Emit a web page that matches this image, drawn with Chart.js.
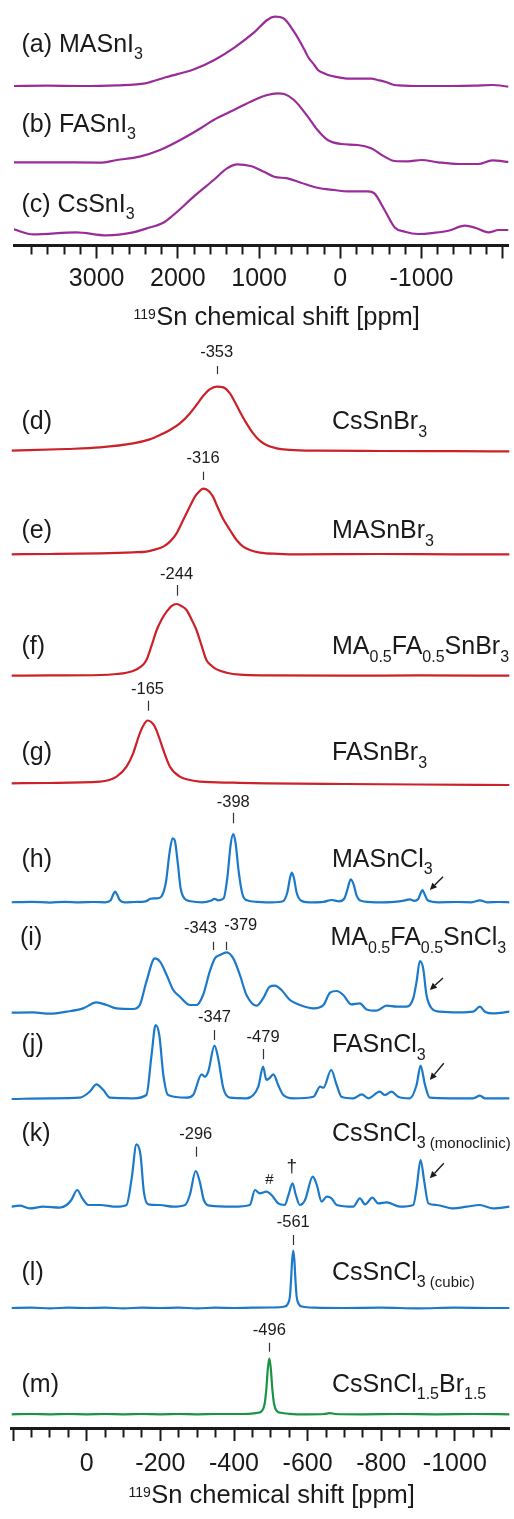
<!DOCTYPE html>
<html><head><meta charset="utf-8">
<script src="https://cdn.jsdelivr.net/npm/chart.js@4.4.1/dist/chart.umd.min.js"></script>
<style>
html,body{margin:0;padding:0;background:#fff;}
#wrap{position:relative;width:514px;height:1519px;overflow:hidden;background:#fff;}
canvas{position:absolute;left:0;top:0;}
</style></head><body>
<div id="wrap"><canvas id="topChart" width="514" height="1519"></canvas><canvas id="botChart" width="514" height="1519"></canvas></div>
<script>
// ---------------- DATA (ppm, intensity) ----------------
const topTickLabels = [3000, 2000, 1000, 0, -1000];
const botTickLabels = [0, -200, -400, -600, -800, -1000];

const traceA = [[4020,0],[3600,0.3],[3200,0],[2750,0.7],[2400,2.7],[2150,8.7],[1800,16.7],[1550,26],[1300,38.7],[1050,54.3],[900,66],[800,69.3],[700,67.7],[570,54.3],[440,36],[398,29.3],[320,21],[275,16],[200,12.7],[151,11],[70,9.3],[-55,7.7],[-220,7.3],[-385,7.3],[-460,6],[-550,4.3],[-670,1],[-715,0.7],[-960,0],[-1370,0],[-1650,0.3],[-1870,1],[-2080,-0.7]];
const traceB = [[4020,0],[3580,0],[2960,-0.3],[2750,2.3],[2470,5.7],[2220,12.3],[1970,22.3],[1720,34],[1560,42.3],[1310,52.3],[1060,62.3],[900,67.3],[775,69],[690,68.3],[570,62.3],[400,45.7],[280,32.3],[155,22.3],[-10,18.3],[-215,17.3],[-380,14],[-545,5.7],[-670,1.3],[-835,1],[-1000,2.3],[-1205,0],[-1455,-1.7],[-1700,-1.7],[-1870,2],[-2080,0.3]];
const traceC = [[4020,2.3],[3780,-2.7],[3250,-0.7],[2880,-3.7],[2550,-0.7],[2385,3.3],[2180,9],[2055,16.7],[1805,35],[1560,51.7],[1395,63.3],[1270,67.3],[1105,65.7],[940,60],[815,55],[650,53.3],[485,49],[280,44],[75,41.7],[-90,40.3],[-340,40.3],[-420,38.3],[-545,21.7],[-670,4.3],[-795,0],[-960,-2.3],[-1165,-1],[-1330,1],[-1535,6],[-1660,4],[-1825,-0.7],[-1950,1.7],[-2080,1.7]];

const traceD = [[209,0],[55,1.7],[-36,3.3],[-126,7.3],[-171,11.3],[-199,15.7],[-226,20.7],[-253,27.3],[-280,37.3],[-298,45.7],[-316,54.7],[-334,61.3],[-353,64],[-371,63.3],[-389,57.3],[-402,49],[-416,39],[-434,27.3],[-452,17.3],[-470,10],[-488,5.7],[-516,2.3],[-534,1.3],[-579,0.3],[-625,0],[-800,-0.3],[-1000,-0.5],[-1150,-0.7]];
const traceE = [[209,0],[100,0.3],[-36,1],[-126,2],[-162,2.7],[-180,4.3],[-208,7.7],[-226,12.7],[-244,21],[-262,34.3],[-280,47.7],[-294,57.7],[-303,61.7],[-316,65.7],[-330,63.7],[-343,57.7],[-353,49.3],[-371,35],[-389,24.3],[-407,14.3],[-425,7.7],[-443,4.3],[-470,1.7],[-520,0.5],[-579,0],[-800,0.3],[-1000,0],[-1150,0]];
const traceF = [[209,0],[100,0.3],[-36,0.7],[-81,1.7],[-108,3],[-135,6.3],[-153,11],[-162,15.7],[-176,30],[-190,45.7],[-203,56],[-217,64],[-230,69.5],[-244,71.7],[-258,69.5],[-271,65.7],[-285,56],[-298,45.7],[-312,30],[-325,15.7],[-339,10],[-353,6.3],[-380,3],[-416,1],[-488,0.3],[-700,0],[-900,0.3],[-1150,0]];
const traceG = [[209,0.7],[100,1],[-36,2.3],[-81,7.3],[-108,17.3],[-126,30.7],[-144,50.7],[-156,60],[-165,63.5],[-175,62],[-185,57.3],[-197,46],[-208,34],[-226,17.3],[-253,7.3],[-280,4],[-307,2.3],[-400,1.3],[-488,0.7],[-700,0],[-900,-0.5],[-1150,-1]];
const traceH = [[209,0],[150,0.5],[100,-0.3],[60,0.5],[20,0],[-20,0.3],[-50,0],[-65,2],[-72,8],[-77,10.7],[-82,8],[-90,2],[-102,0],[-130,0.3],[-160,1],[-173,3.5],[-181,4],[-191,4],[-203,6],[-215,20],[-225,50],[-233,64],[-239,62],[-247,40],[-255,14],[-265,4],[-283,1],[-313,0],[-337,1.5],[-347,3.5],[-357,2],[-372,4],[-382,25],[-391,58],[-398,68.3],[-404,60],[-413,30],[-423,8],[-435,2],[-463,0.5],[-503,0],[-533,1],[-545,10],[-552,24],[-557,29.7],[-563,24],[-570,10],[-581,2],[-604,0],[-644,0.5],[-665,2.3],[-685,1],[-700,4],[-709,14],[-717,23],[-725,18],[-733,7],[-745,1.5],[-785,0],[-835,0.5],[-865,2],[-877,3],[-890,1.5],[-900,3],[-907,9],[-912,12.3],[-918,8],[-926,2],[-956,0],[-1006,0.3],[-1046,0],[-1068,2],[-1088,0],[-1118,0.3],[-1150,0]];
const traceI = [[209,0],[146,0.3],[100,-1],[55,1],[10,4.3],[-26,10.3],[-54,7.7],[-81,4.3],[-126,3.7],[-144,7.7],[-162,31],[-185,54.3],[-199,51],[-217,37.7],[-235,22.7],[-253,16],[-280,7.7],[-298,7.7],[-316,17.7],[-334,41],[-348,54.3],[-362,57.7],[-380,60.3],[-398,54.3],[-416,37.7],[-434,17.7],[-461,7],[-479,14.3],[-497,26],[-511,27],[-529,22.7],[-552,12.7],[-579,7.7],[-616,4.3],[-643,7.7],[-661,20],[-679,21.7],[-697,17.7],[-719,8.3],[-742,9.3],[-760,3.3],[-787,2],[-815,7],[-842,6],[-869,6],[-887,14.3],[-896,31],[-905,51.7],[-914,44.3],[-923,17.7],[-937,4.3],[-959,1],[-1014,0.3],[-1050,1],[-1068,6],[-1082,1],[-1104,-0.7],[-1150,1]];
const traceJ = [[209,0],[100,0.7],[19,1.3],[-8,7.3],[-26,14.7],[-45,9],[-63,1.3],[-126,0.7],[-162,4],[-176,44],[-187,74],[-197,64],[-208,24],[-221,4],[-271,1.3],[-289,4],[-312,24.7],[-321,22.3],[-330,27.3],[-347,53.3],[-357,40.7],[-371,10.7],[-389,1.3],[-434,0.7],[-466,12.3],[-479,32.3],[-488,19],[-496,20.7],[-507,24.7],[-520,14],[-534,4],[-561,0.7],[-616,2.3],[-634,12.3],[-643,11.3],[-664,29],[-679,14],[-692,2.3],[-724,0.7],[-747,4.7],[-765,0.7],[-796,7.3],[-810,4],[-828,7.3],[-846,2.3],[-878,0.7],[-896,14],[-907,33.3],[-919,14],[-932,1.3],[-987,0.7],[-1050,0.7],[-1068,3.3],[-1082,0.7],[-1150,0.7]];
const traceK = [[209,1],[182,2],[155,-0.7],[119,1],[73,0],[55,2.7],[42,7.7],[26,17.7],[12,9.3],[-4,2.7],[-36,2.7],[-81,1],[-108,2.7],[-122,29.3],[-135,63.3],[-146,52.7],[-155,16],[-167,3.3],[-199,2.7],[-235,1],[-267,2.7],[-280,12.7],[-296,36.7],[-307,26],[-318,7.7],[-334,2],[-398,1],[-443,2.7],[-457,17.7],[-470,14.3],[-488,16],[-502,12.7],[-520,4.3],[-538,2.7],[-548,12.7],[-559,24.3],[-568,12.7],[-579,2.7],[-593,7.7],[-614,31],[-625,22.7],[-638,6],[-652,11],[-665,9.3],[-679,2.7],[-724,1],[-742,9.3],[-756,3.3],[-776,10],[-792,4.3],[-815,5.3],[-851,1],[-887,2.7],[-896,19.3],[-907,47.7],[-917,26],[-928,4.3],[-950,2.7],[-996,-0.7],[-1032,1],[-1068,2.7],[-1104,-0.7],[-1150,1]];
const traceL = [[209,0],[150,0.3],[100,-0.3],[50,0.3],[0,0],[-50,0.3],[-100,-0.3],[-150,0.3],[-200,0],[-250,0.3],[-300,-0.3],[-350,0.3],[-400,0],[-450,0.3],[-500,0.5],[-537,1.5],[-546,4],[-552,12],[-555,28],[-558,48],[-561,57.5],[-564,48],[-567,28],[-570,12],[-576,4],[-585,1.5],[-620,0.3],[-700,0],[-800,0.3],[-900,-0.3],[-1000,0.3],[-1100,0],[-1150,0]];
const traceM = [[209,0],[150,0.3],[100,0],[50,0.3],[0,0],[-50,0.3],[-100,0],[-150,0.3],[-200,0],[-250,0.3],[-300,0],[-350,0.3],[-400,0.3],[-440,0.5],[-465,1.5],[-475,3],[-483,10],[-488,26],[-492,46],[-496,56],[-500,46],[-504,26],[-509,10],[-517,3],[-527,1.5],[-550,0.5],[-600,0],[-645,0.3],[-660,1.2],[-675,0.3],[-750,0],[-850,0.3],[-950,0],[-1050,0.3],[-1150,0]];

// ---------------- STYLE / LAYOUT ----------------
const FONT = '"Liberation Sans", Arial, Helvetica, sans-serif';
const INK = '#1a1a1a';
const PURPLE = '#9a2c9a', RED = '#cc2129', BLUE = '#1b79c9', GREEN = '#1a9444';

const topSeries = [
  {data: traceA, base: 86, color: PURPLE},
  {data: traceB, base: 162.3, color: PURPLE},
  {data: traceC, base: 231.7, color: PURPLE}
];
const botSeries = [
  {data: traceD, base: 450.7, color: RED},
  {data: traceE, base: 554.3, color: RED},
  {data: traceF, base: 675.7, color: RED},
  {data: traceG, base: 784, color: RED},
  {data: traceH, base: 902.3, color: BLUE},
  {data: traceI, base: 1012.7, color: BLUE},
  {data: traceJ, base: 1099, color: BLUE},
  {data: traceK, base: 1207.7, color: BLUE},
  {data: traceL, base: 1308, color: BLUE},
  {data: traceM, base: 1414.3, color: GREEN}
];

const M = t => [t, 0], S = t => [t, 1], s = t => [t, 2];
const ANNOT = {
  topChart: {
    title: {x: 133.5, y: 324.5},
    labels: [
      {x: 21.5, y: 51.7, parts: [M('(a) MASnI'), S('3')]},
      {x: 21.5, y: 131.7, parts: [M('(b) FASnI'), S('3')]},
      {x: 21.5, y: 211.7, parts: [M('(c) CsSnI'), S('3')]}
    ],
    peaks: [], arrows: [], marks: []
  },
  botChart: {
    title: {x: 128.5, y: 1502.7},
    labels: [
      {x: 21.5, y: 429, parts: [M('(d)')]}, {x: 332, y: 429, parts: [M('CsSnBr'), S('3')]},
      {x: 21.5, y: 538, parts: [M('(e)')]}, {x: 332, y: 538, parts: [M('MASnBr'), S('3')]},
      {x: 21.5, y: 654, parts: [M('(f)')]}, {x: 332, y: 654, parts: [M('MA'), S('0.5'), M('FA'), S('0.5'), M('SnBr'), S('3')]},
      {x: 21.5, y: 760, parts: [M('(g)')]}, {x: 332, y: 760, parts: [M('FASnBr'), S('3')]},
      {x: 21.5, y: 866.5, parts: [M('(h)')]}, {x: 332, y: 866.5, parts: [M('MASnCl'), S('3')]},
      {x: 20, y: 945, parts: [M('(i)')]}, {x: 330.5, y: 945, parts: [M('MA'), S('0.5'), M('FA'), S('0.5'), M('SnCl'), S('3')]},
      {x: 21.5, y: 1052, parts: [M('(j)')]}, {x: 332, y: 1052, parts: [M('FASnCl'), S('3')]},
      {x: 21.5, y: 1140.7, parts: [M('(k)')]}, {x: 332, y: 1140.7, parts: [M('CsSnCl'), S('3'), s(' (monoclinic)')]},
      {x: 21.5, y: 1279.5, parts: [M('(l)')]}, {x: 332, y: 1279.5, parts: [M('CsSnCl'), S('3'), s(' (cubic)')]},
      {x: 21.5, y: 1391.5, parts: [M('(m)')]}, {x: 332, y: 1391.5, parts: [M('CsSnCl'), S('1.5'), M('Br'), S('1.5')]}
    ],
    peaks: [
      {ppm: -353, text: '-353', ty: 351, t1: 366, t2: 374},
      {ppm: -316, text: '-316', ty: 457.5, t1: 471.7, t2: 480},
      {ppm: -244, text: '-244', ty: 573, t1: 585, t2: 595.7},
      {ppm: -165, text: '-165', ty: 688, t1: 700.7, t2: 710.7},
      {ppm: -398, text: '-398', ty: 801, t1: 812.7, t2: 823.3},
      {ppm: -343, text: '-343', ty: 927.5, t1: 941.7, t2: 950, align: 'right', dx: 4},
      {ppm: -379, text: '-379', ty: 924, t1: 941.7, t2: 950, align: 'left', dx: -2},
      {ppm: -347, text: '-347', ty: 1016, t1: 1030, t2: 1040},
      {ppm: -479, text: '-479', ty: 1036, t1: 1049, t2: 1059.3},
      {ppm: -296, text: '-296', ty: 1133, t1: 1146.7, t2: 1156.7},
      {ppm: -561, text: '-561', ty: 1221.5, t1: 1235, t2: 1245},
      {ppm: -496, text: '-496', ty: 1328.7, t1: 1342.7, t2: 1351.7}
    ],
    marks: [
      {ppm: -496, y: 1180, text: '#', size: 15},
      {ppm: -557, y: 1167, text: '\u2020', size: 19}
    ],
    arrows: [
      {hx: -932, hy: 890, tx: -968, ty: 876.7},
      {hx: -932, hy: 990, tx: -968, ty: 978},
      {hx: -932, hy: 1080, tx: -970, ty: 1063.3},
      {hx: -932, hy: 1178.3, tx: -970, ty: 1163.3}
    ]
  }
};

const SUBSTYLE = {0: {size: 25, dy: 0}, 1: {size: 16, dy: 7.5}, 2: {size: 15, dy: 7.5}};
function drawRich(ctx, x, y, parts) {
  let cx = x;
  for (const [t, k] of parts) {
    const st = SUBSTYLE[k];
    ctx.font = st.size + 'px ' + FONT;
    ctx.fillText(t, cx, y + st.dy);
    cx += ctx.measureText(t).width;
  }
}

const annotPlugin = {
  id: 'annot',
  afterDraw(chart) {
    const a = ANNOT[chart.canvas.id];
    if (!a) return;
    const ctx = chart.ctx, xs = chart.scales.x, ys = chart.scales.y;
    ctx.save();
    ctx.fillStyle = INK; ctx.strokeStyle = INK;
    ctx.textBaseline = 'alphabetic'; ctx.textAlign = 'left';
    for (const l of a.labels) drawRich(ctx, l.x, l.y, l.parts);
    // axis title with superscript
    ctx.font = '14px ' + FONT;
    ctx.fillText('119', a.title.x, a.title.y - 6);
    const w = ctx.measureText('119').width;
    ctx.font = '25.5px ' + FONT;
    ctx.fillText('Sn chemical shift [ppm]', a.title.x + w + 0.5, a.title.y);
    // peak labels
    for (const p of a.peaks) {
      const px = xs.getPixelForValue(p.ppm);
      ctx.font = '16.5px ' + FONT;
      ctx.textAlign = p.align || 'center';
      ctx.fillStyle = INK;
      ctx.fillText(p.text, px + (p.dx || 0), ys.getPixelForValue(p.ty) + 5.9);
      ctx.beginPath();
      ctx.lineWidth = 1.2; ctx.strokeStyle = '#333';
      const xx = Math.round(px) + 0.5;
      ctx.moveTo(xx, ys.getPixelForValue(p.t1));
      ctx.lineTo(xx, ys.getPixelForValue(p.t2));
      ctx.stroke();
    }
    ctx.textAlign = 'center'; ctx.textBaseline = 'middle';
    for (const m of a.marks) {
      ctx.font = m.size + 'px ' + FONT;
      ctx.fillText(m.text, xs.getPixelForValue(m.ppm), ys.getPixelForValue(m.y));
    }
    // arrows
    ctx.strokeStyle = INK; ctx.fillStyle = INK; ctx.lineWidth = 1.4;
    for (const ar of a.arrows) {
      const hx = xs.getPixelForValue(ar.hx), hy = ys.getPixelForValue(ar.hy);
      const tx = xs.getPixelForValue(ar.tx), ty = ys.getPixelForValue(ar.ty);
      const ang = Math.atan2(hy - ty, hx - tx);
      const L = 7, W = 3.3;
      const bx = hx - L * Math.cos(ang), by = hy - L * Math.sin(ang);
      ctx.beginPath(); ctx.moveTo(tx, ty); ctx.lineTo(bx, by); ctx.stroke();
      ctx.beginPath();
      ctx.moveTo(hx, hy);
      ctx.lineTo(bx + W * Math.sin(ang), by - W * Math.cos(ang));
      ctx.lineTo(bx - W * Math.sin(ang), by + W * Math.cos(ang));
      ctx.closePath(); ctx.fill();
    }
    ctx.restore();
  }
};

function tickList(from, to, step) {
  const out = [];
  for (let v = from; v <= to + 1e-9; v += step) out.push({value: v});
  return out;
}

function xAxis(min, max, tickFrom, tickTo, step, major, labeled, pad) {
  return {
    type: 'linear', min, max, reverse: true, position: 'bottom',
    border: {display: true, width: 3, color: INK},
    afterBuildTicks: scale => { scale.ticks = tickList(tickFrom, tickTo, step); },
    grid: {
      drawOnChartArea: false, drawTicks: true, tickLength: 13, tickWidth: 2,
      tickColor: INK,
      tickBorderDash: c => (c.tick && Math.abs(c.tick.value % major) < 1e-6) ? [] : [7.5, 60]
    },
    ticks: {
      autoSkip: false, maxRotation: 0, minRotation: 0,
      padding: pad, color: INK, font: {family: FONT, size: 25},
      callback: v => labeled.includes(v) ? String(v) : ''
    },
    title: {display: false}
  };
}

function build(id, series, xOpts, padding, axisY) {
  const datasets = series.map(sr => ({
    data: sr.data.map(([p, v]) => ({x: p, y: sr.base - v})),
    borderColor: sr.color, borderWidth: 2.2, pointRadius: 0, fill: false,
    cubicInterpolationMode: 'monotone'
  }));
  const chart = new Chart(document.getElementById(id), {
    type: 'line',
    data: {datasets},
    options: {
      responsive: false, animation: false, events: [],
      layout: {padding},
      plugins: {legend: {display: false}, tooltip: {enabled: false}},
      scales: {
        x: xOpts,
        y: {type: 'linear', display: false, reverse: true, min: 0, max: 1519}
      }
    },
    plugins: [annotPlugin]
  });
  chart.options.layout.padding.bottom += chart.chartArea.bottom - axisY;
  chart.update('none');
  chart.options.scales.y.min = chart.chartArea.top;
  chart.options.scales.y.max = chart.chartArea.bottom;
  chart.update('none');
  return chart;
}

build('topChart', topSeries,
  xAxis(-2069, 4018, -2000, 3800, 200, 1000, topTickLabels, 5.5),
  {left: 14, right: 5.7, top: 0, bottom: 1200}, 245.5);
build('botChart', botSeries,
  xAxis(-1148, 204, -1100, 200, 50, 200, botTickLabels, 8.5),
  {left: 11.7, right: 4.7, top: 335, bottom: 40}, 1428);
</script>
</body></html>
